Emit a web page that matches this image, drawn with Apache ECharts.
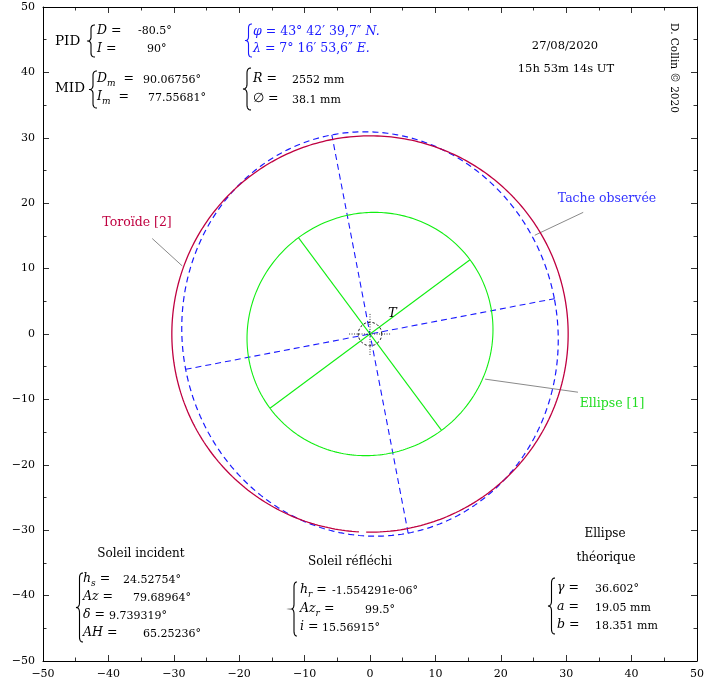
<!DOCTYPE html>
<html>
<head>
<meta charset="utf-8">
<script src="https://cdn.jsdelivr.net/npm/echarts/dist/echarts.min.js"></script>
<style>
  html, body { margin: 0; padding: 0; background: #fff; }
  #chart { width: 707px; height: 682px; }
</style>
</head>
<body>
<div id="chart"></div>
<script>
// Axis range and tick step (mm)
const axisRange = [-50, 50];
const tickStep = 10;

// Shapes: [semi-axis a, semi-axis b, orientation of a in degrees]
const toroide = [30.3, 30.3, 0];
const tacheObservee = [28.7, 31.0, 10.85];
const ellipseTheorique = [19.05, 18.351, 36.602];

// Target at the origin
const cibleRayon = 1.8;
const croixDemi = 3.2;

// Leader lines for the annotations, in mm: [start, end]
const repereToroide = [[-33.3, 14.6], [-28.7, 10.4]];
const repereTache = [[32.6, 18.6], [25.2, 15.1]];
const repereEllipse = [[17.6, -6.9], [31.8, -8.9]];

// Parameter blocks
const pid = { D: '-80.5°', I: '90°' };
const mid = { Dm: '90.06756°', Im: '77.55681°' };
const lieu = { phi: '43° 42′ 39,7″', lambda: '7° 16′ 53,6″' };
const miroir = { R: '2552 mm', diam: '38.1 mm' };
const dateObs = ['27/08/2020', '15h 53m 14s UT'];
const soleilIncident = { hs: '24.52754°', Az: '79.68964°', delta: '9.739319°', AH: '65.25236°' };
const soleilReflechi = { hr: '-1.554291e-06°', Azr: '99.5°', i: '15.56915°' };

const RED = '#bf0040';
const BLUE = '#1a1aff';
const GREEN = '#11ee11';
const F = "'DejaVu Serif', 'Liberation Serif', serif";

function ellipsePts(a, b, deg, from, to, n) {
  const r = deg * Math.PI / 180, pts = [];
  for (let k = 0; k <= n; k++) {
    const t = (from + (to - from) * k / n) * Math.PI / 180;
    const u = a * Math.cos(t), v = b * Math.sin(t);
    pts.push([u * Math.cos(r) - v * Math.sin(r), u * Math.sin(r) + v * Math.cos(r)]);
  }
  return pts;
}
function axisSeg(len, deg) {
  const r = deg * Math.PI / 180;
  return [[-len * Math.cos(r), -len * Math.sin(r)], [len * Math.cos(r), len * Math.sin(r)]];
}
function line(data, color, width, type, z) {
  return {
    type: 'line', data, symbol: 'none', showSymbol: false, silent: true,
    lineStyle: { color, width, type: type || 'solid' }, z: z || 2, animation: false
  };
}

function axisCfg(pos, showLabels) {
  return {
    type: 'value', min: axisRange[0], max: axisRange[1], interval: tickStep, position: pos,
    axisLine: { show: true, onZero: false, lineStyle: { color: '#000', width: 1 } },
    axisTick: { show: true, inside: true, length: 6, lineStyle: { color: '#000', width: 0.8 } },
    minorTick: { show: true, splitNumber: 2, length: 3.5, lineStyle: { color: '#000', width: 0.8 } },
    splitLine: { show: false },
    axisLabel: {
      show: showLabels, margin: 8, color: '#000', fontFamily: F, fontSize: 11,
      formatter: v => String(v).replace('-', '\u2212')
    }
  };
}

// Text helpers
const richStyles = {
  i: { fontFamily: F, fontStyle: 'italic', fontSize: 12.5, lineHeight: 18 },
  n: { fontFamily: F, fontSize: 12.5, lineHeight: 18 },
  s: { fontFamily: F, fontStyle: 'italic', fontSize: 9, lineHeight: 9, verticalAlign: 'bottom' }
};
function txt(x, y, text, o) {
  o = o || {};
  const align = o.align || 'left';
  const style = {
    text, fill: o.color || '#000', fontFamily: F, fontSize: o.size || 11,
    fontStyle: o.italic ? 'italic' : 'normal',
    align, textAlign: align, verticalAlign: 'middle', textVerticalAlign: 'middle'
  };
  if (o.rich) style.rich = o.rich;
  return { type: 'text', x, y, z: 100, silent: true, rotation: o.rot || 0, style };
}
function math(x, y, s, color, size) {
  return txt(x, y, s, { rich: richStyles, color, size: size || 12.5 });
}
function val(x, y, s) { return txt(x, y, s, { size: 11 }); }

// Curly brace built from quadratic pieces, as a polyline in pixels
function brace(x, y, w, h, color) {
  const c = Math.min(5, h * 0.12);
  const xm = x + w / 2, ym = y + h / 2;
  const segs = [
    [[x + w, y], [xm, y], [xm, y + c]],
    [[xm, ym - c], [xm, ym], [x, ym]],
    [[x, ym], [xm, ym], [xm, ym + c]],
    [[xm, y + h - c], [xm, y + h], [x + w, y + h]]
  ];
  const pts = [];
  segs.forEach(([p0, p1, p2]) => {
    for (let k = 0; k <= 8; k++) {
      const t = k / 8, u = 1 - t;
      pts.push([u * u * p0[0] + 2 * u * t * p1[0] + t * t * p2[0],
                u * u * p0[1] + 2 * u * t * p1[1] + t * t * p2[1]]);
    }
  });
  return {
    type: 'polyline', z: 100, silent: true,
    shape: { points: pts },
    style: { fill: null, stroke: color || '#000', lineWidth: 1.1 }
  };
}

const [ta, tb, tg] = ellipseTheorique;
const [oa, ob, og] = tacheObservee;
const [ra, rb, rg] = toroide;

const series = [
  // observed spot: dashed ellipse and its axes
  line(ellipsePts(oa, ob, og, 0, 360, 360), BLUE, 1.2, [6, 4], 3),
  line(axisSeg(oa, og), BLUE, 1.1, [6, 4], 3),
  line(axisSeg(ob, og + 90), BLUE, 1.1, [6, 4], 3),
  // toroid
  line(ellipsePts(ra, rb, rg, -91.1, 266.8, 360), RED, 1.3, 'solid', 4),
  // theoretical ellipse and its axes
  line(ellipsePts(ta, tb, tg, 0, 360, 360), GREEN, 1.1, 'solid', 3),
  line(axisSeg(ta, tg), GREEN, 1.1, 'solid', 3),
  line(axisSeg(tb, tg + 90), GREEN, 1.1, 'solid', 3),
  // target
  line(ellipsePts(cibleRayon, cibleRayon, 0, 0, 360, 90), '#000', 0.9, [2.5, 2], 5),
  line([[-croixDemi, 0], [croixDemi, 0]], '#000', 0.8, [1, 1.5], 5),
  line([[0, -croixDemi], [0, croixDemi]], '#000', 0.8, [1, 1.5], 5),
  // leader lines
  line(repereToroide, '#8a8a8a', 1, 'solid', 2),
  line(repereTache, '#8a8a8a', 1, 'solid', 2),
  line(repereEllipse, '#8a8a8a', 1, 'solid', 2)
];

const graphics = [
  // PID / MID
  txt(55, 41, 'PID', { size: 13.5 }),
  brace(87, 25, 8, 32),
  math(97, 31, '{i|D} {n|=}'), val(138, 31, pid.D),
  math(97, 49, '{i|I} {n|=}'), val(147, 49, pid.I),
  txt(55, 88, 'MID', { size: 13.5 }),
  brace(89, 71, 8, 37),
  math(97, 79, '{i|D}{s|m} {n| =}'), val(143, 80, mid.Dm),
  math(97, 97, '{i|I}{s|m} {n| =}'), val(148, 98, mid.Im),
  // location
  brace(245, 24, 7, 33, BLUE),
  math(253, 32, '{i|φ} {n|= ' + lieu.phi + '} {i|N.}', BLUE),
  math(253, 49, '{i|λ} {n|= ' + lieu.lambda + '} {i|E.}', BLUE),
  // mirror
  brace(243, 68, 8, 42),
  math(253, 79, '{i|R} {n|=}'), val(292, 80, miroir.R),
  math(253, 99, '{n|∅ =}'), val(292, 100, miroir.diam),
  // date
  txt(565, 46, dateObs[0], { align: 'center', size: 11.5 }),
  txt(566, 69, dateObs[1], { align: 'center', size: 11.5 }),
  txt(674, 68, 'D. Collin © 2020', { align: 'center', size: 10.5, rot: -Math.PI / 2 }),
  // incident sun
  txt(141, 554, 'Soleil incident', { align: 'center', size: 12 }),
  brace(76, 573, 7, 69),
  math(83, 579, '{i|h}{s|s} {n|=}'), val(123, 580, soleilIncident.hs),
  math(83, 597, '{i|Az} {n|=}'), val(133, 598, soleilIncident.Az),
  math(83, 615, '{i|δ} {n|=}'), val(109, 616, soleilIncident.delta),
  math(83, 633, '{i|AH} {n|=}'), val(143, 634, soleilIncident.AH),
  // reflected sun
  txt(350, 562, 'Soleil réfléchi', { align: 'center', size: 12 }),
  brace(291, 582, 6, 54),
  math(300, 590, '{i|h}{s|r} {n|=}'), val(332, 591, soleilReflechi.hr),
  math(300, 609, '{i|Az}{s|r} {n|=}'), val(365, 610, soleilReflechi.Azr),
  math(300, 627, '{i|i} {n|=}'), val(322, 628, soleilReflechi.i),
  // theoretical ellipse
  txt(605, 534, 'Ellipse', { align: 'center', size: 12 }),
  txt(606, 558, 'théorique', { align: 'center', size: 12 }),
  brace(548, 578, 7, 56),
  math(557, 588, '{i|γ} {n|=}'), val(595, 589, tg + '°'),
  math(557, 607, '{i|a} {n|=}'), val(595, 608, ta + ' mm'),
  math(557, 625, '{i|b} {n|=}'), val(595, 626, tb + ' mm'),
  // annotations
  txt(137, 223, 'Toroïde [2]', { align: 'center', size: 12.5, color: RED }),
  txt(607, 199, 'Tache observée', { align: 'center', size: 12.5, color: '#3333ff' }),
  txt(612, 404, 'Ellipse [1]', { align: 'center', size: 12.5, color: '#22dd22' }),
  txt(388, 314, 'T', { size: 13, italic: true })
];

const chart = echarts.init(document.getElementById('chart'), null, { renderer: 'canvas' });
chart.setOption({
  animation: false,
  backgroundColor: '#fff',
  grid: { left: 43, right: 10, top: 7, bottom: 21, containLabel: false, outerBoundsMode: 'none' },
  xAxis: [axisCfg('bottom', true), axisCfg('top', false)],
  yAxis: [axisCfg('left', true), axisCfg('right', false)],
  series,
  graphic: graphics
});
</script>
</body>
</html>
